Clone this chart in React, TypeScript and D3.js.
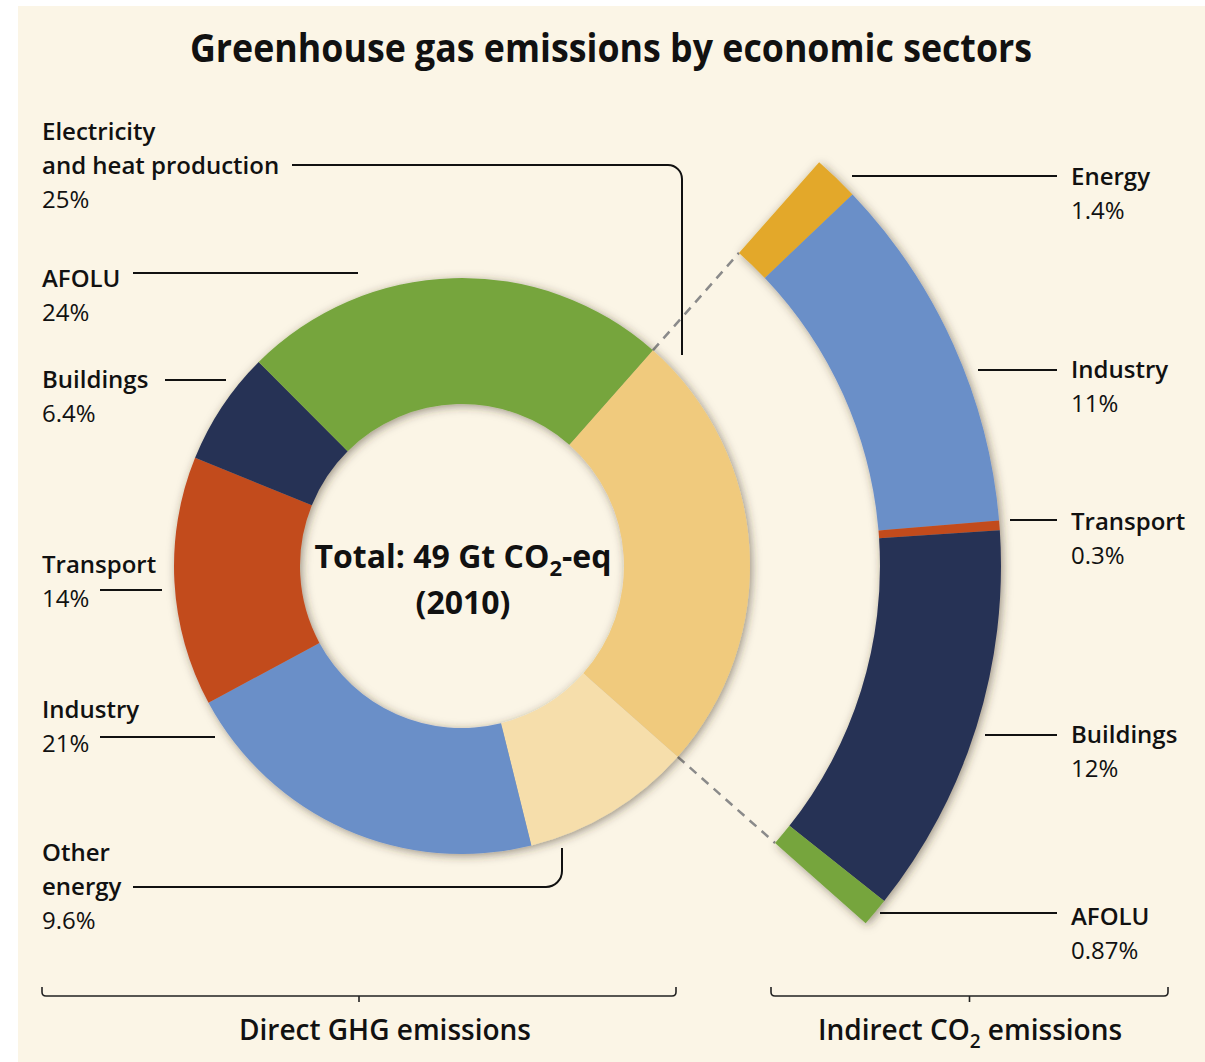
import React from "react";
import * as d3 from "d3";

// ---------- data ----------
const directCategories = [
  "Electricity and heat production",
  "Other energy",
  "Industry",
  "Transport",
  "Buildings",
  "AFOLU",
];
const directValues = [25, 9.6, 21, 14, 6.4, 24];

const indirectCategories = ["Energy", "Industry", "Transport", "Buildings", "AFOLU"];
const indirectValues = [1.4, 11, 0.3, 12, 0.87];

const titleText = "Greenhouse gas emissions by economic sectors";
const totalText = ["Total: 49 Gt CO", "2", "-eq"];
const yearText = "(2010)";
const directGroupLabel = "Direct GHG emissions";
const indirectGroupLabel = ["Indirect CO", "2", " emissions"];

// ---------- styles / layout ----------
const W = 1205;
const H = 1062;
const BG = "#fbf5e6";
const FONT = "'Open Sans', 'Noto Sans', 'DejaVu Sans', sans-serif";
const directColors = ["#f0ca7d", "#f6deab", "#6a8fc8", "#c24b1f", "#283255", "#76a53e"];
const indirectColors = ["#e3a82a", "#6a8fc8", "#c24b1f", "#283255", "#76a53e"];

const cx = 462;
const cy = 566;
const rIn = 162;
const rOut = 288;
const rArcIn = 418;
const rArcOut = 539;
const startDeg = 41.5;

// label layout: lines of each category label, position of first line center, leader path
const directLabelLayout = [
  { lines: ["Electricity", "and heat production"], x: 42, y: 131, leader: "M292,165 H668 A14,14 0 0 1 682,179 V355" },
  { lines: ["Other", "energy"], x: 42, y: 852, leader: "M133,887 H546 A16,16 0 0 0 562,871 V848" },
  { lines: ["Industry"], x: 42, y: 709, leader: "M100,737 H215" },
  { lines: ["Transport"], x: 42, y: 564, leader: "M100,590 H162" },
  { lines: ["Buildings"], x: 42, y: 379, leader: "M165,380 H226" },
  { lines: ["AFOLU"], x: 42, y: 278, leader: "M133,273 H358" },
];
const indirectLabelLayout = [
  { x: 1071, y: 176, leader: "M852,176 H1057" },
  { x: 1071, y: 369, leader: "M978,370 H1057" },
  { x: 1071, y: 521, leader: "M1010,520 H1057" },
  { x: 1071, y: 734, leader: "M985,735 H1057" },
  { x: 1071, y: 916, leader: "M880,913 H1057" },
];
const LINE_H = 34;
const LABEL_SIZE = 24;

const rad = (deg: number) => (deg * Math.PI) / 180;
const polar = (r: number, a: number): [number, number] => [cx + r * Math.sin(a), cy - r * Math.cos(a)];

export default function App() {
  const directPie = d3
    .pie<number>()
    .sort(null)
    .startAngle(rad(startDeg))
    .endAngle(rad(startDeg + 360))(directValues);

  const elec = directPie[0];
  const indirectPie = d3
    .pie<number>()
    .sort(null)
    .startAngle(elec.startAngle)
    .endAngle(elec.endAngle)(indirectValues);

  const donutArc = d3.arc<d3.PieArcDatum<number>>().innerRadius(rIn).outerRadius(rOut);
  const bandArc = d3.arc<d3.PieArcDatum<number>>().innerRadius(rArcIn).outerRadius(rArcOut);

  const dashLines = [elec.startAngle, elec.endAngle].map((a) => {
    const [x1, y1] = polar(rOut, a);
    const [x2, y2] = polar(rArcIn, a);
    return { x1, y1, x2, y2 };
  });

  const fmt = (v: number) => `${v}%`;

  return (
    <svg width={W} height={H} style={{ position: "absolute", left: 0, top: 0 }} fontFamily={FONT}>
      <defs>
        <filter id="shadow" x="-20%" y="-20%" width="140%" height="140%">
          <feDropShadow dx="2" dy="2" stdDeviation="5" floodColor="#3a3020" floodOpacity="0.5" />
        </filter>
      </defs>
      <rect x={0} y={0} width={W} height={H} fill="#ffffff" />
      <rect x={18} y={6} width={W - 18} height={H - 6} fill={BG} />

      {/* title */}
      <text x={611} y={62} textAnchor="middle" fontSize={39} fontWeight={700} fill="#111" textLength={842} lengthAdjust="spacingAndGlyphs">
        {titleText}
      </text>

      {/* dashed connectors */}
      {dashLines.map((l, i) => (
        <line key={i} {...l} stroke="#8a8a8a" strokeWidth={2.5} strokeDasharray="9,7" />
      ))}

      {/* donut */}
      <g transform={`translate(${cx},${cy})`} filter="url(#shadow)">
        {directPie.map((d, i) => (
          <path key={i} d={donutArc(d) || ""} fill={directColors[i]} />
        ))}
      </g>

      {/* indirect band */}
      <g transform={`translate(${cx},${cy})`} filter="url(#shadow)">
        {indirectPie.map((d, i) => (
          <path key={i} d={bandArc(d) || ""} fill={indirectColors[i]} />
        ))}
      </g>

      {/* center text */}
      <text x={463} y={568} textAnchor="middle" fontSize={32} fontWeight={700} fill="#111">
        {totalText[0]}
        <tspan fontSize={22} dy={8}>{totalText[1]}</tspan>
        <tspan dy={-8}>{totalText[2]}</tspan>
      </text>
      <text x={463} y={614} textAnchor="middle" fontSize={32} fontWeight={700} fill="#111">
        {yearText}
      </text>

      {/* left labels */}
      {directLabelLayout.map((lay, i) => (
        <g key={i}>
          {lay.lines.map((ln, j) => (
            <text key={j} x={lay.x} y={lay.y + j * LINE_H + 9} fontSize={LABEL_SIZE} fontWeight={600} fill="#111">
              {ln}
            </text>
          ))}
          <text x={lay.x} y={lay.y + lay.lines.length * LINE_H + 9} fontSize={LABEL_SIZE} fontWeight={400} fill="#111">
            {fmt(directValues[i])}
          </text>
          <path d={lay.leader} fill="none" stroke="#111" strokeWidth={2} />
        </g>
      ))}

      {/* right labels */}
      {indirectLabelLayout.map((lay, i) => (
        <g key={i}>
          <text x={lay.x} y={lay.y + 9} fontSize={LABEL_SIZE} fontWeight={600} fill="#111">
            {indirectCategories[i]}
          </text>
          <text x={lay.x} y={lay.y + LINE_H + 9} fontSize={LABEL_SIZE} fontWeight={400} fill="#111">
            {fmt(indirectValues[i])}
          </text>
          <path d={lay.leader} fill="none" stroke="#111" strokeWidth={2} />
        </g>
      ))}

      {/* brackets */}
      <path d="M42,987 V992 Q42,996 46,996 H672 Q676,996 676,992 V987 M359,996 V1002" fill="none" stroke="#222" strokeWidth={1.6} />
      <path d="M771,987 V992 Q771,996 775,996 H1164 Q1168,996 1168,992 V987 M969.5,996 V1002" fill="none" stroke="#222" strokeWidth={1.6} />
      <text x={385} y={1040} textAnchor="middle" fontSize={28} fontWeight={600} fill="#111">
        {directGroupLabel}
      </text>
      <text x={970} y={1040} textAnchor="middle" fontSize={28} fontWeight={600} fill="#111">
        {indirectGroupLabel[0]}
        <tspan fontSize={19} dy={8}>{indirectGroupLabel[1]}</tspan>
        <tspan dy={-8}>{indirectGroupLabel[2]}</tspan>
      </text>
    </svg>
  );
}
